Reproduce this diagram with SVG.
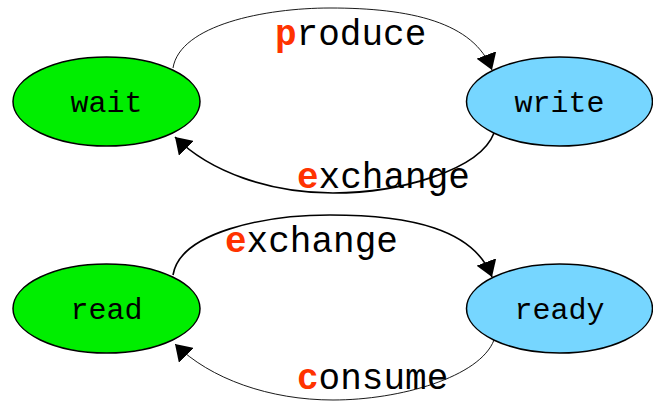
<svg xmlns="http://www.w3.org/2000/svg" width="653" height="401" viewBox="0 0 653 401">
<style>
.n{stroke:#000;stroke-width:1.5}
.g{fill:#00ee00}
.b{fill:#76d6ff}
.nt{font-family:"Liberation Mono","Courier New",monospace;font-size:30px;fill:#000;text-anchor:middle}
.lt{font-family:"Liberation Mono","Courier New",monospace;font-size:36px;fill:#000}
.r{fill:#ff3300;font-weight:bold}
.e{fill:none;stroke:#000}
.thin{stroke-width:0.9}
.thick{stroke-width:1.6}
</style>
<defs>
<marker id="ah" viewBox="0 0 16 21" refX="16" refY="10.5" markerWidth="16" markerHeight="21" markerUnits="userSpaceOnUse" orient="auto">
<path d="M0,0 L16,10.5 L0,21 z" fill="#000"/>
</marker>
</defs>
<g id="edges">
<path class="e thin" d="M173,68 C180,25 265,8 330,8 C410,8 474,22 492,70" marker-end="url(#ah)"/>
<path class="e thick" d="M494,133 C480,170 400,193 333,193 C270,193 210,172 175,137" marker-end="url(#ah)"/>
<path class="e thick" d="M173,275 C180,232 265,215 330,215 C410,215 474,229 492,277" marker-end="url(#ah)"/>
<path class="e thin" d="M494,340 C480,377 400,400 333,400 C270,400 210,379 175,344" marker-end="url(#ah)"/>
</g>
<g id="wait">
<ellipse class="n g" cx="106.5" cy="101.5" rx="93.5" ry="44.5"/>
<text class="nt" x="106.5" y="112">wait</text>
</g>
<g id="write">
<ellipse class="n b" cx="559.5" cy="101.5" rx="93" ry="44.5"/>
<text class="nt" x="559.5" y="112">write</text>
</g>
<g id="read">
<ellipse class="n g" cx="106.5" cy="308.5" rx="93.5" ry="44.5"/>
<text class="nt" x="106.5" y="319">read</text>
</g>
<g id="ready">
<ellipse class="n b" cx="559.5" cy="308.5" rx="93" ry="44.5"/>
<text class="nt" x="559.5" y="319">ready</text>
</g>
<g id="labels">
<text class="lt" x="275" y="45"><tspan class="r">p</tspan>roduce</text>
<text class="lt" x="297" y="188"><tspan class="r">e</tspan>xchange</text>
<text class="lt" x="225" y="252"><tspan class="r">e</tspan>xchange</text>
<text class="lt" x="297" y="389"><tspan class="r">c</tspan>onsume</text>
</g>
</svg>
